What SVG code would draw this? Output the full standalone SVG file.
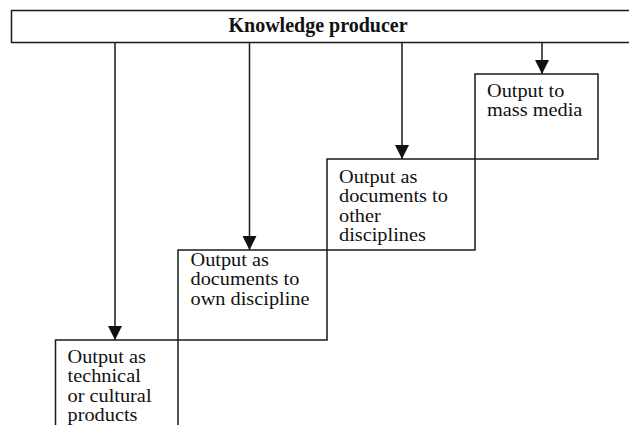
<svg xmlns="http://www.w3.org/2000/svg" width="629" height="425" viewBox="0 0 629 425">
  <style>
    .box { fill: #ffffff; stroke: #1a1a1a; stroke-width: 1.5; }
    .wire { fill: none; stroke: #1a1a1a; stroke-width: 1.5; }
    .title { font-family: "Liberation Serif", "Times New Roman", serif; font-size: 20px; font-weight: bold; fill: #111; }
    .label { font-family: "Liberation Serif", "Times New Roman", serif; font-size: 19px; fill: #111; }
  </style>
  <defs>
    <marker id="arrow" viewBox="0 0 14 14" refX="14" refY="7" markerWidth="14" markerHeight="14" markerUnits="userSpaceOnUse" orient="auto">
      <path d="M0,0 L14,7 L0,14 Z" fill="#111"/>
    </marker>
  </defs>
  <rect width="629" height="425" fill="#ffffff"/>

  <!-- staircase of output boxes -->
  <g id="node-technical">
    <path class="box" d="M55.5,425 L55.5,340 L178,340 L178,425"/>
    <text class="label" transform="translate(67.5,363) scale(1.07,1)">
      <tspan x="0" dy="0">Output as</tspan>
      <tspan x="0" dy="19.3">technical</tspan>
      <tspan x="0" dy="19.3">or cultural</tspan>
      <tspan x="0" dy="19.3">products</tspan>
    </text>
  </g>
  <g id="node-own-discipline">
    <rect class="box" x="178" y="250" width="149" height="90"/>
    <text class="label" transform="translate(190.5,266) scale(1.07,1)">
      <tspan x="0" dy="0">Output as</tspan>
      <tspan x="0" dy="19.3">documents to</tspan>
      <tspan x="0" dy="19.3">own discipline</tspan>
    </text>
  </g>
  <g id="node-other-disciplines">
    <rect class="box" x="327" y="159" width="148" height="91"/>
    <text class="label" transform="translate(339,183) scale(1.07,1)">
      <tspan x="0" dy="0">Output as</tspan>
      <tspan x="0" dy="19.3">documents to</tspan>
      <tspan x="0" dy="19.3">other</tspan>
      <tspan x="0" dy="19.3">disciplines</tspan>
    </text>
  </g>
  <g id="node-mass-media">
    <rect class="box" x="475" y="74" width="123" height="85"/>
    <text class="label" transform="translate(487,97) scale(1.07,1)">
      <tspan x="0" dy="0">Output to</tspan>
      <tspan x="0" dy="19.3">mass media</tspan>
    </text>
  </g>

  <!-- top producer bar -->
  <g id="node-producer">
    <rect class="box" x="11.5" y="10.5" width="640" height="32"/>
    <text class="title" x="318" y="32" text-anchor="middle">Knowledge producer</text>
  </g>

  <!-- connectors from producer to each output -->
  <g id="connectors">
    <line class="wire" x1="115" y1="42.5" x2="115" y2="340" marker-end="url(#arrow)"/>
    <line class="wire" x1="249.5" y1="42.5" x2="249.5" y2="250" marker-end="url(#arrow)"/>
    <line class="wire" x1="402" y1="42.5" x2="402" y2="159" marker-end="url(#arrow)"/>
    <line class="wire" x1="542" y1="42.5" x2="542" y2="74" marker-end="url(#arrow)"/>
  </g>
</svg>
